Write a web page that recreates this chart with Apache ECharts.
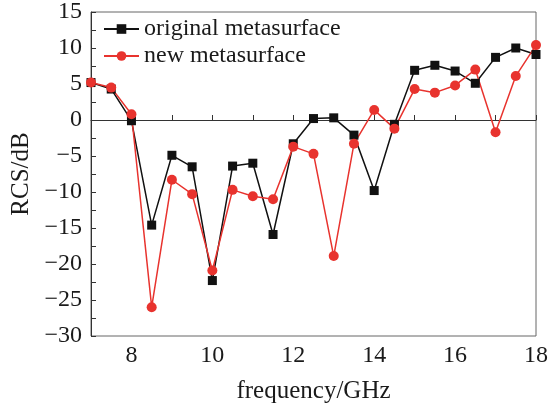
<!DOCTYPE html>
<html>
<head>
<meta charset="utf-8">
<script src="https://cdn.jsdelivr.net/npm/echarts@6/dist/echarts.min.js"></script>
<style>
  html, body { margin: 0; padding: 0; background: #fff; }
  #chart { width: 552px; height: 403px; }
</style>
</head>
<body>
<div id="chart"></div>
<script>
// frequency points (GHz)
var freq = [7, 7.5, 8, 8.5, 9, 9.5, 10, 10.5, 11, 11.5, 12, 12.5, 13, 13.5, 14, 14.5, 15, 15.5, 16, 16.5, 17, 17.5, 18];
// RCS values (dB)
var original = [5.2, 4.3, -0.1, -14.6, -4.9, -6.5, -22.3, -6.4, -6.0, -15.9, -3.3, 0.2, 0.3, -2.1, -9.8, -0.6, 6.9, 7.6, 6.8, 5.1, 8.7, 10.0, 9.1];
var newMeta = [5.2, 4.5, 0.8, -26.0, -8.3, -10.3, -20.9, -9.7, -10.6, -11.0, -3.7, -4.7, -18.9, -3.3, 1.4, -1.2, 4.3, 3.8, 4.8, 7.0, -1.7, 6.1, 10.4];
var seriesNames = ["original metasurface", "new metasurface"];

function pairs(xs, ys) {
  return xs.map(function (x, i) { return [x, ys[i]]; });
}

var font = "Liberation Serif";
var chartObj = echarts.init(document.getElementById("chart"));
var option = {
  animation: false,
  grid: {
    left: 91,
    right: 16,
    top: 12,
    bottom: 67,
    containLabel: false,
    outerBoundsMode: "none",
    show: true,
    borderColor: "#666",
    borderWidth: 1
  },
  legend: {
    data: seriesNames,
    orient: "vertical",
    left: 98,
    top: 12,
    itemWidth: 35,
    itemHeight: 12,
    itemGap: 3,
    textStyle: { fontFamily: font, fontSize: 24, color: "#1a1a1a" }
  },
  xAxis: {
    type: "value",
    min: 7,
    max: 18,
    interval: 1,
    name: "frequency/GHz",
    nameLocation: "middle",
    nameGap: 43,
    nameTextStyle: { fontFamily: font, fontSize: 25, color: "#1a1a1a" },
    axisLine: { lineStyle: { color: "#333", width: 1 } },
    axisTick: { inside: true, length: 5, lineStyle: { color: "#333" } },
    splitLine: { show: false },
    axisLabel: {
      fontFamily: font,
      fontSize: 24,
      color: "#1a1a1a",
      margin: 8,
      formatter: function (v) { return v % 2 === 0 ? String(v) : ""; }
    }
  },
  yAxis: {
    type: "value",
    min: -30,
    max: 15,
    interval: 2.5,
    name: "RCS/dB",
    nameLocation: "middle",
    nameGap: 56,
    nameTextStyle: { fontFamily: font, fontSize: 25, color: "#1a1a1a" },
    axisLine: { show: true, lineStyle: { color: "#333", width: 1 } },
    axisTick: { show: true, inside: true, length: 5, lineStyle: { color: "#333" } },
    splitLine: { show: false },
    axisLabel: {
      fontFamily: font,
      fontSize: 24,
      color: "#1a1a1a",
      margin: 9,
      formatter: function (v) {
        if (v % 5 !== 0) return "";
        return String(v).replace("-", "\u2212");
      }
    }
  },
  series: [
    {
      name: seriesNames[0],
      type: "line",
      data: pairs(freq, original),
      symbol: "rect",
      symbolSize: 9,
      itemStyle: { color: "#111" },
      lineStyle: { color: "#111", width: 1.5 }
    },
    {
      name: seriesNames[1],
      type: "line",
      data: pairs(freq, newMeta),
      symbol: "circle",
      symbolSize: 10,
      itemStyle: { color: "#e8332e" },
      lineStyle: { color: "#e8332e", width: 1.5 }
    }
  ]
};
chartObj.setOption(option);
</script>
</body>
</html>
